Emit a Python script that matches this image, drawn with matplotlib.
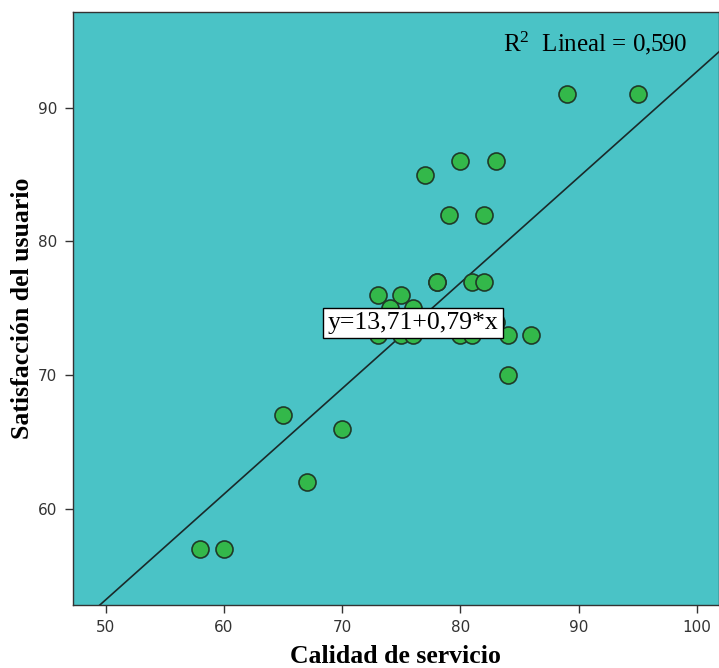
import matplotlib
matplotlib.use("Agg")
import matplotlib.pyplot as plt

# ---- Data ----
calidad = [58, 60, 65, 67, 70, 73, 75, 74, 76, 73, 75, 76, 80, 81, 83, 84, 86, 84,
           78, 78, 81, 82, 77, 80, 83, 79, 82, 89, 95]
satisfaccion = [57, 57, 67, 62, 66, 76, 76, 75, 75, 73, 73, 73, 73, 73, 74, 73, 73, 70,
                77, 77, 77, 77, 85, 86, 86, 82, 82, 91, 91]

intercept = 13.71
slope = 0.79
r2 = "0,590"

x_ticks = [50, 60, 70, 80, 90, 100]
y_ticks = [60, 70, 80, 90]

# ---- Style ----
plt.rcParams["mathtext.fontset"] = "custom"
plt.rcParams["mathtext.rm"] = "Liberation Serif"
plt.rcParams["mathtext.it"] = "Liberation Serif:italic"

BG = "#4ac3c6"
DOT = "#33b84a"
SPINE = "#333333"

fig = plt.figure(figsize=(7.19, 6.68), dpi=100)
ax = fig.add_axes([72.7 / 719, 63 / 668, (719 - 72.7) / 719, 593.3 / 668])
ax.set_facecolor(BG)

ax.set_xlim(47.21, 101.86)
ax.set_ylim(52.82, 97.18)

# fit line
x0, x1 = ax.get_xlim()
ax.plot([x0, x1], [intercept + slope * x0, intercept + slope * x1],
        color="#1a2a2a", linewidth=1.2, zorder=2)

ax.scatter(calidad, satisfaccion, s=150, color=DOT, edgecolors="#1f3a28",
           linewidths=1.2, zorder=3)

ax.text(76.0, 73.9, "y=13,71+0,79*x", family="Liberation Serif", fontsize=18.5,
        ha="center", va="center", color="black", zorder=4,
        bbox=dict(boxstyle="square,pad=0.17", facecolor="white",
                  edgecolor="black", linewidth=1))

ax.text(83.6, 94.8, r"R$^{2}$  Lineal = " + r2, family="Liberation Serif",
        fontsize=18, ha="left", va="center", color="black", zorder=4)

ax.set_xticks(x_ticks)
ax.set_yticks(y_ticks)
ax.tick_params(direction="out", length=6, width=1, color=SPINE,
               labelsize=11, labelcolor="#333333", pad=5)
for lab in ax.get_xticklabels() + ax.get_yticklabels():
    lab.set_family(["Liberation Sans Narrow", "DejaVu Sans"])
for side in ["left", "bottom", "top", "right"]:
    ax.spines[side].set_color(SPINE)
    ax.spines[side].set_linewidth(1)

ax.set_xlabel("Calidad de servicio", family="Liberation Serif", fontsize=18.5,
              fontweight="bold", labelpad=7)
ax.set_ylabel("Satisfacción del usuario", family="Liberation Serif", fontsize=18.5,
              fontweight="bold", labelpad=3)

fig.savefig("out.png", dpi=100)
